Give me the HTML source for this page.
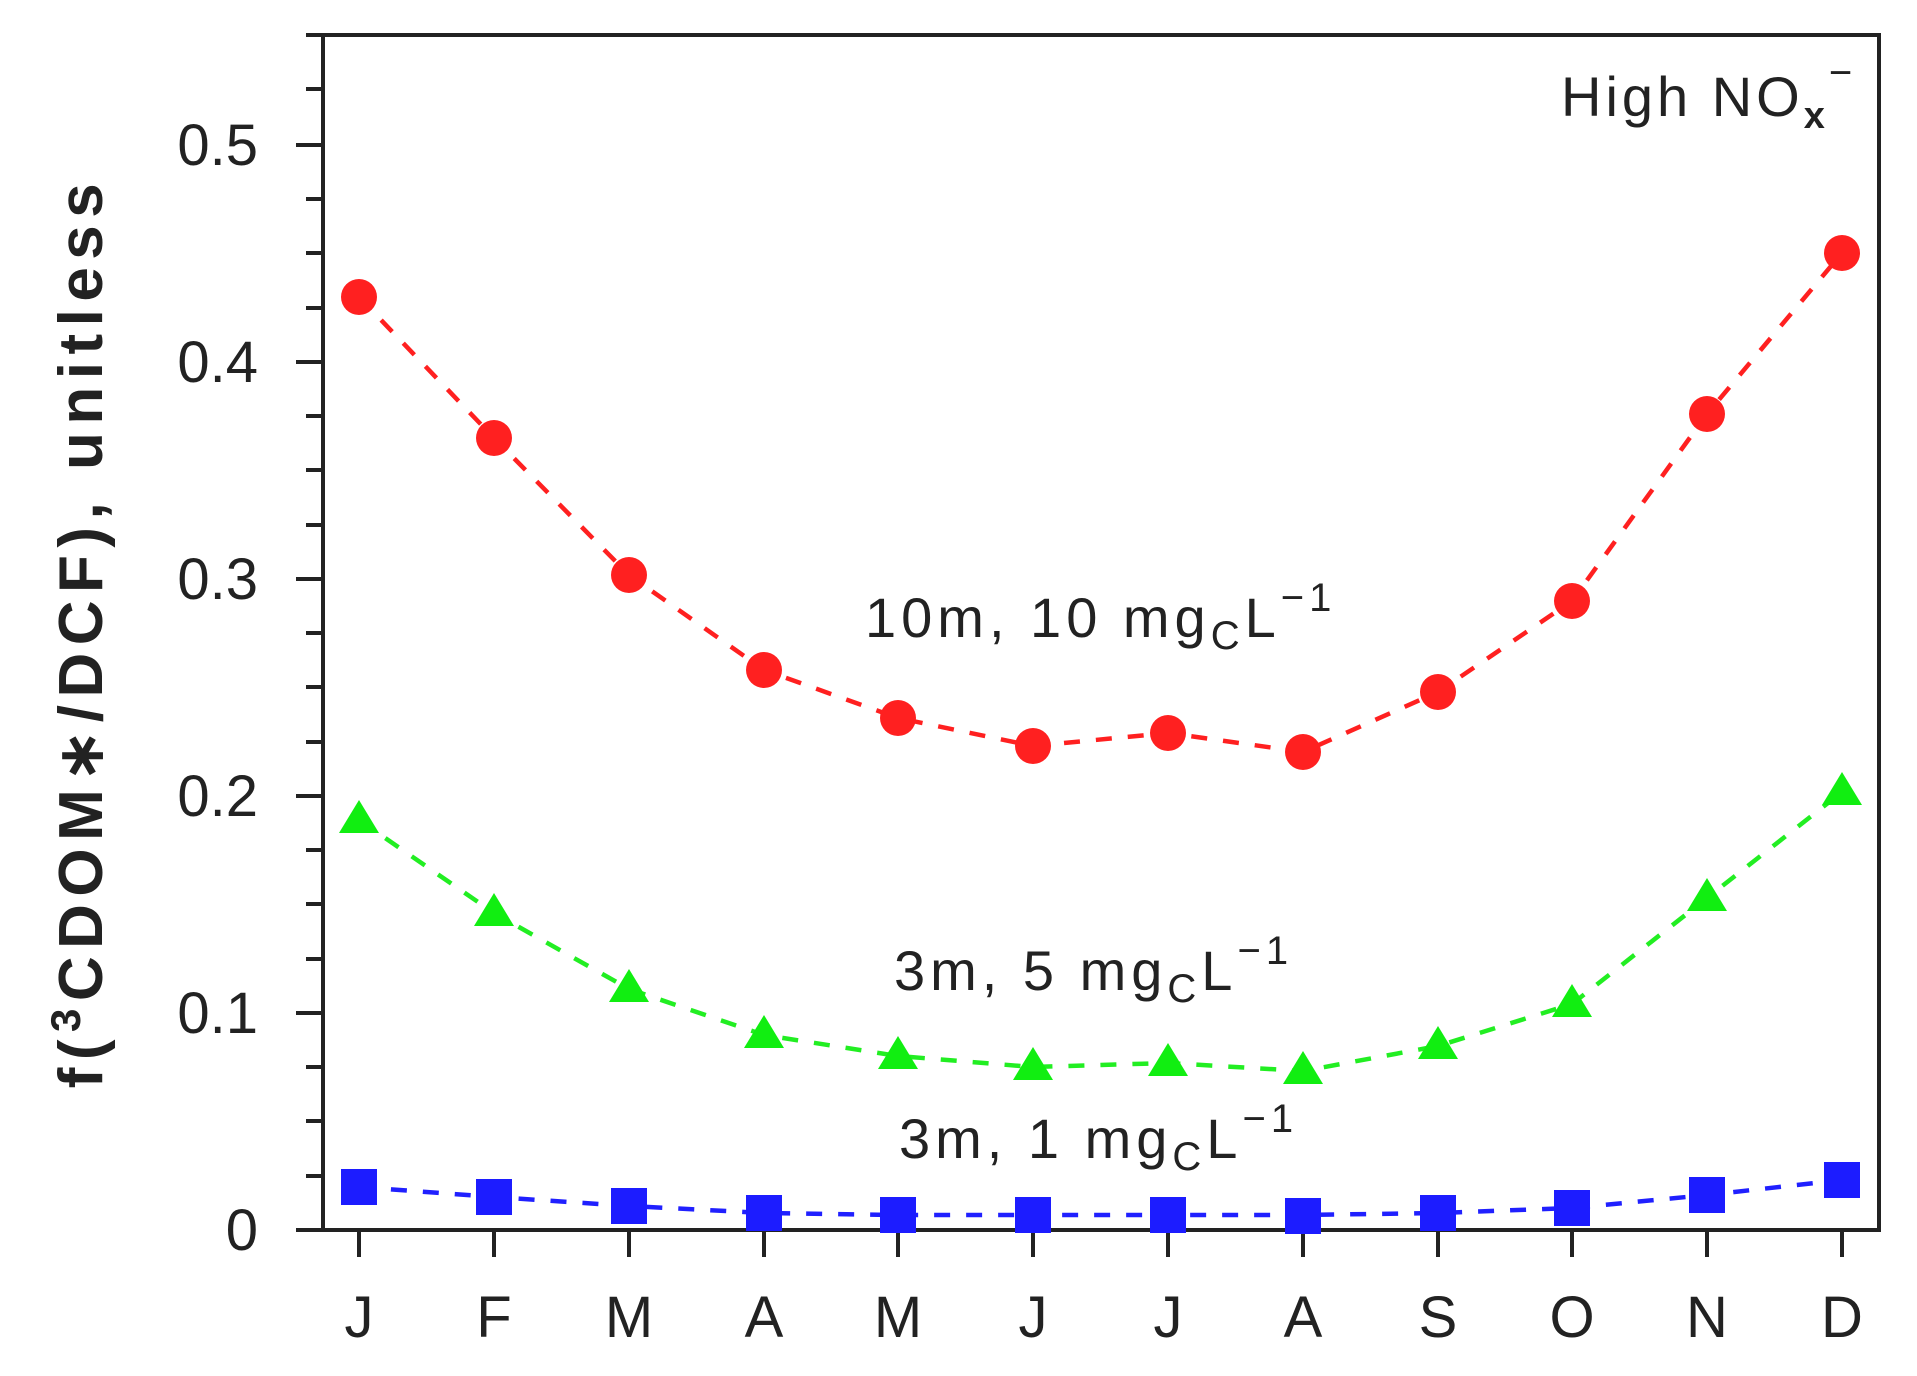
<!DOCTYPE html>
<html><head><style>html,body{margin:0;padding:0;background:#fff}</style></head>
<body>
<svg width="1917" height="1371" viewBox="0 0 1917 1371" xmlns="http://www.w3.org/2000/svg" font-family="Liberation Sans, sans-serif" fill="#222">
<g stroke="#222" stroke-width="4">
<rect x="323" y="35" width="1556" height="1195" fill="none"/>
</g>
<g stroke="#222" stroke-width="4">
<line x1="296" y1="1230" x2="323" y2="1230"/><line x1="306" y1="1176" x2="323" y2="1176"/>
<line x1="296" y1="1013" x2="323" y2="1013"/><line x1="306" y1="1067" x2="323" y2="1067"/><line x1="306" y1="1121" x2="323" y2="1121"/>
<line x1="306" y1="959" x2="323" y2="959"/><line x1="296" y1="796" x2="323" y2="796"/><line x1="306" y1="850" x2="323" y2="850"/><line x1="306" y1="904" x2="323" y2="904"/>
<line x1="306" y1="742" x2="323" y2="742"/><line x1="296" y1="579" x2="323" y2="579"/><line x1="306" y1="633" x2="323" y2="633"/><line x1="306" y1="687" x2="323" y2="687"/>
<line x1="306" y1="525" x2="323" y2="525"/><line x1="296" y1="362" x2="323" y2="362"/><line x1="306" y1="416" x2="323" y2="416"/><line x1="306" y1="470" x2="323" y2="470"/>
<line x1="306" y1="308" x2="323" y2="308"/><line x1="296" y1="145" x2="323" y2="145"/><line x1="306" y1="199" x2="323" y2="199"/><line x1="306" y1="253" x2="323" y2="253"/>
<line x1="306" y1="89" x2="323" y2="89"/><line x1="306" y1="35" x2="323" y2="35"/>
</g>
<g stroke="#222" stroke-width="4">
<line x1="359" y1="1230" x2="359" y2="1257"/><line x1="494" y1="1230" x2="494" y2="1257"/><line x1="629" y1="1230" x2="629" y2="1257"/><line x1="764" y1="1230" x2="764" y2="1257"/><line x1="898" y1="1230" x2="898" y2="1257"/><line x1="1033" y1="1230" x2="1033" y2="1257"/><line x1="1168" y1="1230" x2="1168" y2="1257"/><line x1="1303" y1="1230" x2="1303" y2="1257"/><line x1="1438" y1="1230" x2="1438" y2="1257"/><line x1="1572" y1="1230" x2="1572" y2="1257"/><line x1="1707" y1="1230" x2="1707" y2="1257"/><line x1="1842" y1="1230" x2="1842" y2="1257"/>
</g>
<g font-size="58" text-anchor="end">
<text x="258" y="165">0.5</text><text x="258" y="382">0.4</text><text x="258" y="599">0.3</text><text x="258" y="816">0.2</text><text x="258" y="1033">0.1</text><text x="258" y="1250">0</text>
</g>
<g font-size="58" text-anchor="middle">
<text x="359" y="1337">J</text><text x="494" y="1337">F</text><text x="629" y="1337">M</text><text x="764" y="1337">A</text><text x="898" y="1337">M</text><text x="1033" y="1337">J</text><text x="1168" y="1337">J</text><text x="1303" y="1337">A</text><text x="1438" y="1337">S</text><text x="1572" y="1337">O</text><text x="1707" y="1337">N</text><text x="1842" y="1337">D</text>
</g>
<text transform="translate(102,632) rotate(-90)" text-anchor="middle" font-size="62" font-weight="bold" letter-spacing="7.5">f(<tspan font-size="42" dy="-22">3</tspan><tspan dy="22">CDOM∗/DCF),  unitless</tspan></text>
<text x="1561" y="116" font-size="56" letter-spacing="4">High  NO<tspan font-size="38" dy="12" font-weight="bold">x</tspan><tspan font-size="40" dy="-42">−</tspan></text>
<g font-size="56" letter-spacing="5">
<text x="865" y="637">10m,  10  mg<tspan font-size="40" dy="12">C</tspan><tspan dy="-12">L</tspan><tspan font-size="40" dy="-26">−1</tspan></text>
<text x="894" y="990">3m,  5  mg<tspan font-size="40" dy="12">C</tspan><tspan dy="-12">L</tspan><tspan font-size="40" dy="-26">−1</tspan></text>
<text x="899" y="1158">3m,  1  mg<tspan font-size="40" dy="12">C</tspan><tspan dy="-12">L</tspan><tspan font-size="40" dy="-26">−1</tspan></text>
</g>
<g fill="none" stroke-width="4.5" stroke-dasharray="16 16">
<polyline stroke="#ff2020" points="359,297 494,438 629,575 764,670 898,718 1033,746 1168,733 1303,752 1438,692 1572,601 1707,414 1842,253"/>
<polyline stroke="#22ee22" points="359,820 494,913 629,989 764,1035 898,1056 1033,1067 1168,1063 1303,1071 1438,1046 1572,1004 1707,898 1842,792"/>
<polyline stroke="#2020ff" points="359,1187 494,1197 629,1206 764,1213 898,1215 1033,1215 1168,1215 1303,1215 1438,1213 1572,1208 1707,1195 1842,1180"/>
</g>
<g fill="#ff2020">
<circle cx="359" cy="297" r="18"/><circle cx="494" cy="438" r="18"/><circle cx="629" cy="575" r="18"/><circle cx="764" cy="670" r="18"/><circle cx="898" cy="718" r="18"/><circle cx="1033" cy="746" r="18"/><circle cx="1168" cy="733" r="18"/><circle cx="1303" cy="752" r="18"/><circle cx="1438" cy="692" r="18"/><circle cx="1572" cy="601" r="18"/><circle cx="1707" cy="414" r="18"/><circle cx="1842" cy="253" r="18"/>
</g>
<g fill="#11ee11">
<polygon points="359,800 339,833 379,833"/><polygon points="494,893 474,926 514,926"/><polygon points="629,969 609,1002 649,1002"/><polygon points="764,1015 744,1048 784,1048"/><polygon points="898,1036 878,1069 918,1069"/><polygon points="1033,1047 1013,1080 1053,1080"/><polygon points="1168,1043 1148,1076 1188,1076"/><polygon points="1303,1051 1283,1084 1323,1084"/><polygon points="1438,1026 1418,1059 1458,1059"/><polygon points="1572,984 1552,1017 1592,1017"/><polygon points="1707,878 1687,911 1727,911"/><polygon points="1842,772 1822,805 1862,805"/>
</g>
<g fill="#1c1cff">
<rect x="341" y="1169" width="36" height="36"/><rect x="476" y="1179" width="36" height="36"/><rect x="611" y="1188" width="36" height="36"/><rect x="746" y="1195" width="36" height="36"/><rect x="880" y="1197" width="36" height="36"/><rect x="1015" y="1197" width="36" height="36"/><rect x="1150" y="1197" width="36" height="36"/><rect x="1285" y="1198" width="36" height="36"/><rect x="1420" y="1195" width="36" height="36"/><rect x="1554" y="1190" width="36" height="36"/><rect x="1689" y="1177" width="36" height="36"/><rect x="1824" y="1162" width="36" height="36"/>
</g>
</svg>
</body></html>
